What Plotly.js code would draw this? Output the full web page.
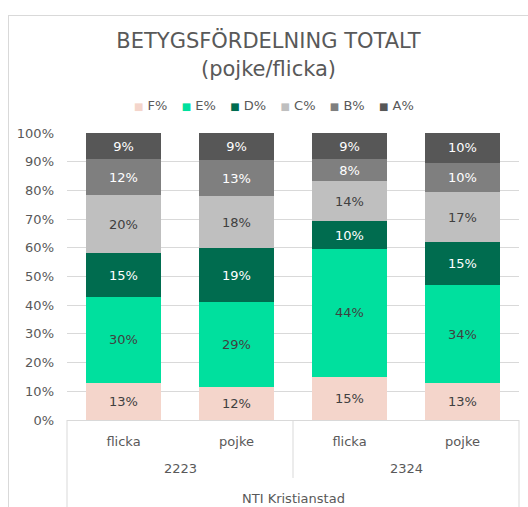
<!DOCTYPE html>
<html><head><meta charset="utf-8">
<script src="https://cdn.plot.ly/plotly-3.0.1.min.js"></script>
<style>
body{margin:0;background:#fff;}
#frame{position:absolute;left:8px;top:15px;width:520px;height:492px;border-left:1px solid #D9D9D9;border-top:1px solid #D9D9D9;box-sizing:border-box;}
#chart{position:absolute;left:9px;top:16px;width:519px;height:491px;}
</style>
</head><body>
<div id="frame"></div>
<div id="chart"></div>
<script>
const years = ["2223", "2223", "2324", "2324"];
const genders = ["flicka", "pojke", "flicka", "pojke"];
const groupLabel = "NTI Kristianstad";
const seriesNames = ["F%", "E%", "D%", "C%", "B%", "A%"];
const F = [13.0, 11.6, 15.1, 13.0];
const E = [29.7, 29.4, 44.4, 33.9];
const D = [15.4, 18.7, 9.7, 15.1];
const C = [20.1, 18.2, 14.1, 17.4];
const B = [12.4, 12.6, 7.6, 10.2];
const A = [9.2, 9.4, 9.1, 10.4];
const seriesValues = [F, E, D, C, B, A];
const colors = ["#F4D5CB", "#00E09E", "#006C4F", "#BFBFBF", "#7F7F7F", "#575757"];
const textColors = ["#404040", "#404040", "#FFFFFF", "#404040", "#FFFFFF", "#FFFFFF"];
const FONT = "'DejaVu Sans', sans-serif";
const GRID = "#D9D9D9";
const TXT = "#595959";

// unique category keys, labelled by gender
const keys = years.map((y, i) => y + " " + genders[i]);

// year groups: centre index and boundaries (from the arrays)
const yearGroups = [];
years.forEach((y, i) => {
  const g = yearGroups.find(o => o.year === y);
  if (g) { g.last = i; } else { yearGroups.push({year: y, first: i, last: i}); }
});

const traces = seriesNames.map((name, i) => ({
  type: "bar",
  name: name,
  x: keys,
  y: seriesValues[i],
  text: seriesValues[i].map(v => Math.round(v) + "%"),
  texttemplate: "%{text}",
  textposition: "inside",
  insidetextanchor: "middle",
  textangle: 0,
  constraintext: "none",
  textfont: {family: FONT, size: 13, color: textColors[i]},
  marker: {color: colors[i], line: {width: 0}},
  hoverinfo: "name+y",
  showlegend: false
}));

const annotations = yearGroups.map(g => ({
  text: g.year, xref: "x", yref: "paper", x: (g.first + g.last) / 2, y: -0.1707,
  xanchor: "center", yanchor: "middle", showarrow: false,
  font: {family: FONT, size: 13, color: TXT}
}));
annotations.push({
  text: groupLabel, xref: "paper", yref: "paper", x: 0.5, y: -0.2718,
  xanchor: "center", yanchor: "middle", showarrow: false,
  font: {family: FONT, size: 13, color: TXT}
});
// legend row built from the series names and colours
const NB = "\u00A0";
const legendText = seriesNames.map((n, i) =>
  "<span style='font-size:10px;color:" + colors[i] + "'>■</span>" + NB + n
).join("<span style='font-size:15px'>" + NB + NB + NB + "</span>");
annotations.push({
  text: legendText, xref: "paper", yref: "paper", x: 0.459, y: 1.0976,
  xanchor: "center", yanchor: "middle", showarrow: false,
  font: {family: FONT, size: 13, color: TXT}
});

const shapes = [
  {type: "line", xref: "paper", yref: "paper", x0: 0, x1: 0, y0: 0, y1: -0.31, line: {color: GRID, width: 1}},
  {type: "line", xref: "paper", yref: "paper", x0: 1, x1: 1, y0: 0, y1: -0.31, line: {color: GRID, width: 1}}
];
yearGroups.slice(1).forEach(g => {
  shapes.push({type: "line", xref: "x", yref: "paper", x0: g.first - 0.5, x1: g.first - 0.5, y0: 0, y1: -0.202, line: {color: GRID, width: 1}});
});

const layout = {
  width: 519, height: 491,
  margin: {l: 58, r: 9, t: 117, b: 87},
  paper_bgcolor: "#fff", plot_bgcolor: "#fff",
  barmode: "stack",
  barnorm: "percent",
  bargap: 0.336,
  font: {family: FONT, color: TXT, size: 13},
  title: {
    text: "BETYGSFÖRDELNING TOTALT<br>(pojke/flicka)",
    font: {family: FONT, size: 21, color: TXT},
    x: 0.5, xanchor: "center", xref: "container",
    y: 0.934, yanchor: "top", yref: "container"
  },
  showlegend: false,
  xaxis: {
    type: "category",
    range: [-0.5, keys.length - 0.5],
    tickvals: keys, ticktext: genders,
    showline: true, linecolor: GRID, linewidth: 1,
    ticks: "", showgrid: false,
    ticklabelstandoff: 9,
    tickfont: {family: FONT, size: 13, color: TXT}
  },
  yaxis: {
    range: [0, 100], dtick: 10, ticksuffix: "%",
    showgrid: true, gridcolor: GRID, gridwidth: 1,
    zeroline: false, showline: false,
    ticklabelstandoff: 12,
    tickfont: {family: FONT, size: 13, color: TXT}
  },
  annotations: annotations,
  shapes: shapes
};

Plotly.newPlot("chart", traces, layout, {displayModeBar: false, staticPlot: true});
</script>
</body></html>
